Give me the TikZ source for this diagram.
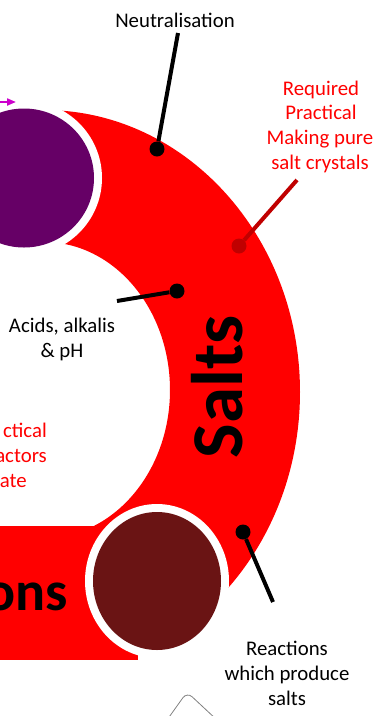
\documentclass[tikz,border=0pt]{standalone}
\usepackage{fontspec}
\setmainfont{Carlito}
\usetikzlibrary{arrows.meta}
\definecolor{bandred}{HTML}{FF0000}
\definecolor{darkred}{HTML}{C00000}
\definecolor{plum}{HTML}{660066}
\definecolor{maroon}{HTML}{6A1414}
\definecolor{magentaarrow}{HTML}{CC00CC}
\tikzset{
  lbl/.style={font=\fontsize{20.8}{24.7}\selectfont, inner sep=0pt, anchor=base},
  redlbl/.style={lbl, text=bandred},
  dotnode/.style={circle, fill=black, minimum size=15pt, inner sep=0pt},
  reddot/.style={dotnode, fill=darkred},
  leader/.style={line width=4pt, draw=black},
  redleader/.style={line width=4pt, draw=darkred},
  bigword/.style={font=\bfseries\fontsize{73}{80}\selectfont, inner sep=0pt},
}
\begin{document}
\begin{tikzpicture}[x=1pt,y=-1pt]
\useasboundingbox (0,0) rectangle (379,716);
% neighbouring segment bar
\fill[bandred] (0,526) rectangle (138,660);
% red band
\begin{scope}
\clip (60,0) rectangle (379,595);
\fill[bandred, even odd rule] (44,392) ellipse [x radius=256, y radius=282] (44,390) ellipse [x radius=126, y radius=148];
\end{scope}
% circles
\fill[white] (24,178) ellipse [x radius=78, y radius=77.5];
\fill[plum] (24,178) ellipse [x radius=70, y radius=69.5];
\fill[white] (157,581) ellipse [x radius=72, y radius=77];
\fill[maroon] (157,581) ellipse [x radius=64, y radius=69];
% magenta arrow
\coordinate (arrS) at (-2,102);
\coordinate (arrE) at (16,102);
\draw[magentaarrow, line width=2pt, -{Triangle[length=9pt,width=7pt]}] (arrS) -- (arrE);
% labels
\node[lbl] (neut) at (175,27) {Neutralisation};
\node[redlbl] (rp1) at (321,95) {Required};
\node[redlbl] (rp2) at (321,119.7) {Practical};
\node[redlbl] (rp3) at (320,144.4) {Making pure};
\node[redlbl] (rp4) at (320,169) {salt crystals};
\node[lbl] (ac1) at (62,332) {Acids, alkalis};
\node[lbl] (ac2) at (62,357) {\& pH};
\node[lbl] (re1) at (287,655) {Reactions};
\node[lbl] (re2) at (287,680) {which produce};
\node[lbl] (re3) at (287,705) {salts};
\node[redlbl, anchor=base east] (lp1) at (47,437) {ctical};
\node[redlbl, anchor=base east] (lp2) at (47,462) {actors};
\node[redlbl, anchor=base east] (lp3) at (27,487) {ate};
\node[bigword, rotate=90, anchor=base] (salts) at (242,387) {Salts};
\node[font=\bfseries\fontsize{56}{60}\selectfont, inner sep=0pt, anchor=base east] (ons) at (68,610) {ons};
% leaders
\node[dotnode] (dNeut) at (157,149) {};
\coordinate (eNeut) at (178,33);
\draw[leader] (dNeut) -- (eNeut);
\node[dotnode] (dAcid) at (177,291) {};
\coordinate (eAcid) at (117,301);
\draw[leader] (dAcid) -- (eAcid);
\node[reddot] (dPrac) at (239,246) {};
\coordinate (ePrac) at (297,180);
\draw[redleader] (dPrac) -- (ePrac);
\node[dotnode] (dReac) at (243,532) {};
\coordinate (eReac) at (273,602);
\draw[leader] (dReac) -- (eReac);
% small grey outline at the bottom
\draw[gray, line width=0.8pt, rounded corners=7pt] (167,720) -- (187,692) -- (217,720);
\end{tikzpicture}
\end{document}
